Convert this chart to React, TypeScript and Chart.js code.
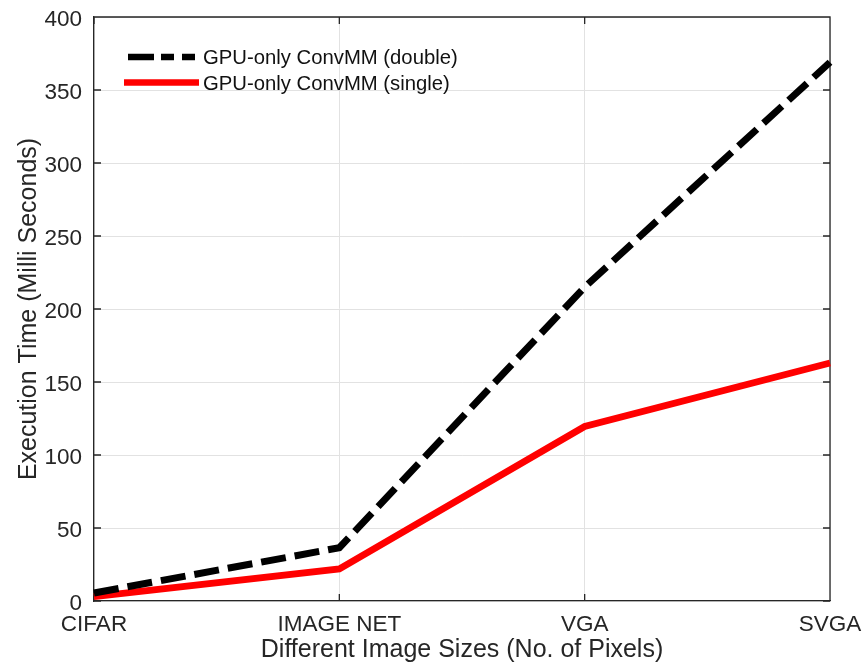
import React, { useEffect, useRef } from "react";
import { Chart, registerables } from "chart.js";

Chart.register(...registerables);

// Image size categories on the x axis
const categories = ["CIFAR", "IMAGE NET", "VGA", "SVGA"];
// Execution times in milliseconds
const doubleTimes = [5.5, 36.5, 215, 369];
const singleTimes = [3, 22, 119.5, 163];
// Y axis range and step
const yMin = 0;
const yMax = 400;
const yStep = 50;

const seriesLabels = ["GPU-only ConvMM (double)", "GPU-only ConvMM (single)"];

const FONT = "'Liberation Sans', Arial, Helvetica, sans-serif";
const AXIS_COLOR = "#262626";
const GRID_COLOR = "#e2e2e2";

// Box around the plot with inward-facing ticks on all four sides
const framePlugin = {
  id: "frameBox",
  beforeDatasetsDraw(chart: any) {
    const { ctx, chartArea, scales } = chart;
    const { left, right, top, bottom } = chartArea;
    const tickLen = 7;
    ctx.save();
    ctx.strokeStyle = AXIS_COLOR;
    ctx.lineWidth = 1.3;
    ctx.beginPath();
    ctx.moveTo(left, top);
    ctx.lineTo(right, top);
    ctx.lineTo(right, bottom);
    scales.y.ticks.forEach((_t: any, i: number) => {
      const py = scales.y.getPixelForTick(i);
      ctx.moveTo(left, py);
      ctx.lineTo(left + tickLen, py);
      ctx.moveTo(right, py);
      ctx.lineTo(right - tickLen, py);
    });
    scales.x.ticks.forEach((_t: any, i: number) => {
      const px = scales.x.getPixelForTick(i);
      ctx.moveTo(px, bottom);
      ctx.lineTo(px, bottom - tickLen);
      ctx.moveTo(px, top);
      ctx.lineTo(px, top + tickLen);
    });
    ctx.stroke();
    ctx.restore();
  },
};

// Legend drawn inside the plot area, without a surrounding box
const insideLegendPlugin = {
  id: "insideLegend",
  afterDatasetsDraw(chart: any) {
    const { ctx, chartArea } = chart;
    const x0 = chartArea.left + 30;
    const x1 = x0 + 75;
    const textX = x1 + 4;
    const rows = [chartArea.top + 40, chartArea.top + 65.5];
    chart.data.datasets.forEach((ds: any, i: number) => {
      const y = rows[i];
      ctx.save();
      ctx.strokeStyle = ds.borderColor;
      ctx.lineWidth = 6.5;
      ctx.lineCap = "butt";
      ctx.beginPath();
      if (ds.legendDash) {
        ctx.setLineDash(ds.legendDash);
        ctx.moveTo(x0 + 4, y);
        ctx.lineTo(x1 - 4, y);
      } else {
        ctx.moveTo(x0, y);
        ctx.lineTo(x1, y);
      }
      ctx.stroke();
      ctx.setLineDash([]);
      ctx.fillStyle = "#111";
      ctx.font = `20.3px ${FONT}`;
      ctx.textAlign = "left";
      ctx.textBaseline = "middle";
      ctx.fillText(ds.label, textX, y + 1.5);
      ctx.restore();
    });
  },
};

export default function App() {
  const canvasRef = useRef<HTMLCanvasElement | null>(null);

  useEffect(() => {
    const canvas = canvasRef.current;
    if (!canvas) return;
    const chart = new Chart(canvas, {
      type: "line",
      data: {
        labels: categories,
        datasets: [
          {
            label: seriesLabels[0],
            data: doubleTimes,
            borderColor: "#000000",
            backgroundColor: "#000000",
            borderWidth: 7,
            borderDash: [25, 9],
            borderCapStyle: "butt",
            pointRadius: 0,
            tension: 0,
            clip: false,
            legendDash: [26, 7, 13, 8, 13],
          } as any,
          {
            label: seriesLabels[1],
            data: singleTimes,
            borderColor: "#ff0000",
            backgroundColor: "#ff0000",
            borderWidth: 6.8,
            borderCapStyle: "butt",
            pointRadius: 0,
            tension: 0,
            clip: false,
          } as any,
        ],
      },
      options: {
        animation: false,
        responsive: false,
        maintainAspectRatio: false,
        layout: { padding: { left: 0, top: 17, right: 33, bottom: 0 } },
        plugins: {
          legend: { display: false },
          tooltip: { enabled: false },
        },
        scales: {
          x: {
            type: "category",
            offset: false,
            grid: { color: GRID_COLOR, lineWidth: 1, drawTicks: false },
            border: { display: true, color: AXIS_COLOR, width: 1.3 },
            ticks: {
              color: AXIS_COLOR,
              font: { family: FONT, size: 22.5 },
              padding: 10,
              maxRotation: 0,
              autoSkip: false,
            },
            title: {
              display: true,
              text: "Different Image Sizes (No. of Pixels)",
              color: AXIS_COLOR,
              font: { family: FONT, size: 25 },
              padding: { top: 0, bottom: 3 },
            },
            afterFit(scale: any) {
              scale.height = 67;
              scale.paddingLeft = 0;
              scale.paddingRight = 0;
            },
          },
          y: {
            type: "linear",
            min: yMin,
            max: yMax,
            grid: { color: GRID_COLOR, lineWidth: 1, drawTicks: false },
            border: { display: true, color: AXIS_COLOR, width: 1.3 },
            ticks: {
              stepSize: yStep,
              color: AXIS_COLOR,
              font: { family: FONT, size: 22.5 },
              padding: 12,
              labelOffset: 2.5,
            },
            title: {
              display: true,
              text: "Execution Time (Milli Seconds)",
              color: AXIS_COLOR,
              font: { family: FONT, size: 25 },
              padding: { top: 14, bottom: 0 },
            },
            afterFit(scale: any) {
              scale.width = 94;
              scale.paddingTop = 0;
              scale.paddingBottom = 0;
            },
          },
        },
      },
      plugins: [framePlugin, insideLegendPlugin],
    });
    return () => chart.destroy();
  }, []);

  return (
    <div
      style={{
        position: "fixed",
        left: 0,
        top: 0,
        width: 863,
        height: 668,
        background: "#ffffff",
      }}
    >
      <canvas ref={canvasRef} width={863} height={668} style={{ display: "block" }} />
    </div>
  );
}
